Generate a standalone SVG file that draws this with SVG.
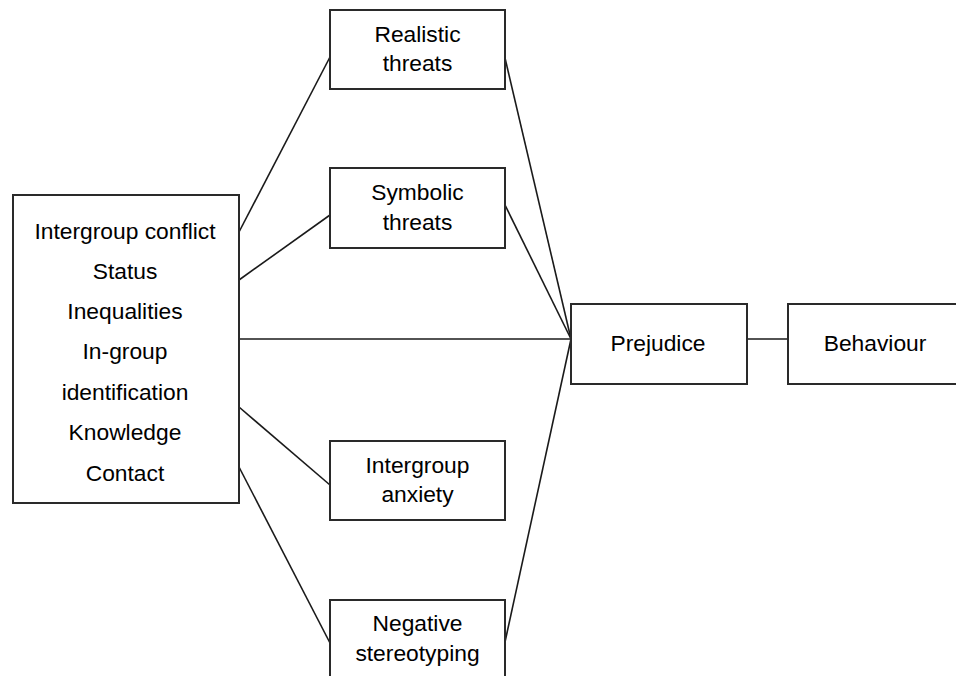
<svg xmlns="http://www.w3.org/2000/svg" width="956" height="676" viewBox="0 0 956 676">
<style>
.box{fill:#fff;stroke:#2a2a2a;stroke-width:2}
.lbl{font-family:"Liberation Sans",Arial,sans-serif;font-size:22.8px;fill:#000;text-anchor:middle}
.con line{stroke:#1a1a1a;stroke-width:1.6}
</style>
<rect width="956" height="676" fill="#fff"/>
<g class="con" id="connectors">
<line x1="239" y1="232" x2="330" y2="57"/>
<line x1="239" y1="280" x2="330" y2="215"/>
<line x1="239" y1="339" x2="571" y2="339"/>
<line x1="239" y1="407" x2="330" y2="485"/>
<line x1="239" y1="467" x2="330" y2="643"/>
<line x1="505" y1="58" x2="571" y2="339"/>
<line x1="505" y1="205" x2="571" y2="339"/>
<line x1="505" y1="642" x2="571" y2="339"/>
<line x1="747" y1="339" x2="788" y2="339"/>
</g>
<g id="antecedents">
<rect class="box" x="13" y="195" width="226" height="308"/>
<text class="lbl" x="125" y="239">Intergroup conflict</text>
<text class="lbl" x="125" y="279">Status</text>
<text class="lbl" x="125" y="319">Inequalities</text>
<text class="lbl" x="125" y="359">In-group</text>
<text class="lbl" x="125" y="400">identification</text>
<text class="lbl" x="125" y="440">Knowledge</text>
<text class="lbl" x="125" y="481">Contact</text>
</g>
<g id="realistic">
<rect class="box" x="330" y="10" width="175" height="79"/>
<text class="lbl" x="417.5" y="42">Realistic</text>
<text class="lbl" x="417.5" y="71">threats</text>
</g>
<g id="symbolic">
<rect class="box" x="330" y="168" width="175" height="80"/>
<text class="lbl" x="417.5" y="200">Symbolic</text>
<text class="lbl" x="417.5" y="230">threats</text>
</g>
<g id="anxiety">
<rect class="box" x="330" y="441" width="175" height="79"/>
<text class="lbl" x="417.5" y="473">Intergroup</text>
<text class="lbl" x="417.5" y="502">anxiety</text>
</g>
<g id="stereotyping">
<rect class="box" x="330" y="600" width="175" height="82"/>
<text class="lbl" x="417.5" y="631">Negative</text>
<text class="lbl" x="417.5" y="661">stereotyping</text>
</g>
<g id="prejudice">
<rect class="box" x="571" y="304" width="176" height="80"/>
<text class="lbl" x="658" y="351">Prejudice</text>
</g>
<g id="behaviour">
<rect class="box" x="788" y="304" width="176" height="80"/>
<text class="lbl" x="875" y="351">Behaviour</text>
</g>
</svg>
